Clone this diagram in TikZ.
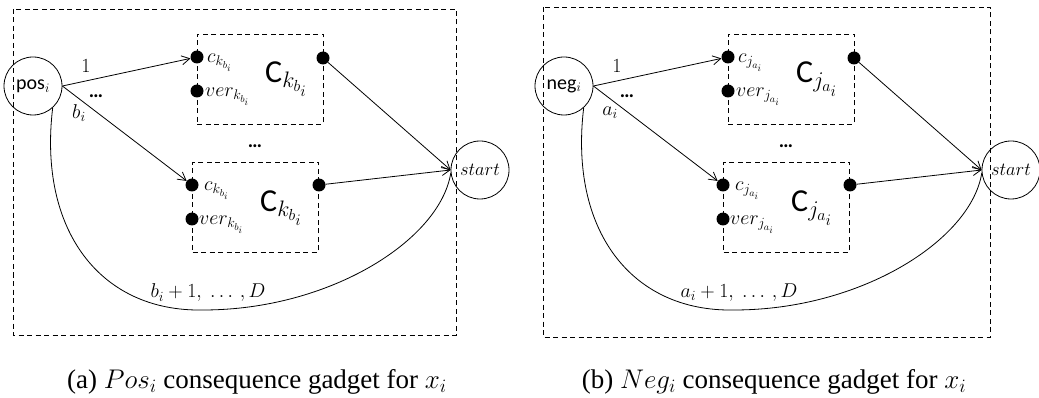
\RequirePackage{fix-cm}
\documentclass[tikz,border=0pt]{standalone}
\usepackage{fontspec}
\setmainfont{Liberation Serif}
\newfontfamily\carlito{Carlito}
\usetikzlibrary{arrows.meta}
\tikzset{
  base/.style={line width=0.8pt},
  circ/.style={draw,circle,minimum size=58pt,inner sep=0pt,line width=0.8pt,font=\fontsize{18.5}{21}\selectfont},
  cbox/.style={draw,dash pattern=on 5pt off 3.5pt,line width=0.8pt,minimum width=126pt,minimum height=90pt,inner sep=0pt},
  outerbox/.style={draw,dash pattern=on 5pt off 3.5pt,line width=0.8pt},
  dot/.style={circle,fill=black,inner sep=0pt,minimum size=13pt},
  lab/.style={inner sep=0pt,font=\fontsize{20}{23}\selectfont},
  boldots/.style={inner sep=0pt,font=\fontsize{20}{22}\selectfont\carlito\bfseries},
  biglab/.style={inner sep=0pt,anchor=base west,font=\fontsize{32}{36}\selectfont},
  arr/.style={line width=0.8pt,-{Straight Barb[length=8pt,width=9pt]}},
  capt/.style={inner sep=0pt,anchor=base,font=\fontsize{27}{30}\selectfont}
}
\newcommand\gadget[4]{%
  \node[circ] (#1src) at (33,86) {{\fontsize{20}{23}\selectfont\carlito #2}$_i$};
  \node[circ] (#1start) at (480,170) {$start$};
  \node[cbox] (#1box1) at (260,79) {};
  \node[cbox] (#1box2) at (255.5,207) {};
  \node[dot] (#1c1) at (197,57) {};
  \node[dot] (#1v1) at (197,91) {};
  \node[dot] (#1o1) at (323,58) {};
  \node[dot] (#1c2) at (192,185) {};
  \node[dot] (#1v2) at (192,219) {};
  \node[dot] (#1o2) at (319,185) {};
  \node[lab,anchor=base west] (#1lc1) at (207,63) {$c_{#4}$};
  \node[lab,anchor=base west] (#1lv1) at (205,97) {$ver_{#4}$};
  \node[biglab] (#1lC1) at (265,83) {{\carlito C}$_{#4}$};
  \node[lab,anchor=base west] (#1lc2) at (204,191) {$c_{#4}$};
  \node[lab,anchor=base west] (#1lv2) at (199,225) {$ver_{#4}$};
  \node[biglab] (#1lC2) at (260,212) {{\carlito C}$_{#4}$};
  \node[boldots,anchor=base] (#1mid) at (255,148) {\dots};
  \draw[arr] (#1src.east) -- (#1c1);
  \draw[arr] (#1src.east) -- (#1c2);
  \draw[arr] (#1o1) -- (#1start.west);
  \draw[arr] (#1o2) -- (#1start.west);
  \draw[base] (#1src.-48) .. controls (38,230) and (100,312) .. (203,310)
     coordinate (#1low) .. controls (330,310) and (440,240) .. (#1start.186);
  \node[lab] (#1one) at (86,66) {$1$};
  \node[boldots,anchor=base] (#1dots) at (96,98) {\dots};
  \node[lab] (#1var) at (79,113) {$#3$};
  \node[lab] (#1rest) at (208,293) {$#3+1,\ \dots\,,D$};
}
\begin{document}
\begin{tikzpicture}[x=1pt,y=-1pt]
  \useasboundingbox (0,0) rectangle (1039,398);
  \draw[outerbox] (13,9) rectangle (456,335);
  \draw[outerbox] (543,7) rectangle (990,337);
  \begin{scope}
    \gadget{a}{pos}{b_i}{k_{b_i}}
  \end{scope}
  \begin{scope}[xshift=531pt]
    \gadget{b}{neg}{a_i}{j_{a_i}}
  \end{scope}
  \node[capt] (capa) at (257,388) {(a) $Pos_i$ consequence gadget for $x_i$};
  \node[capt] (capb) at (774,388) {(b) $Neg_i$ consequence gadget for $x_i$};
\end{tikzpicture}
\end{document}
